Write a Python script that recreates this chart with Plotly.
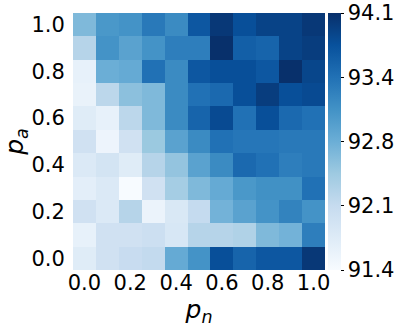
import plotly.graph_objects as go

p_n = [0.0, 0.1, 0.2, 0.3, 0.4, 0.5, 0.6, 0.7, 0.8, 0.9, 1.0]
p_a = [0.0, 0.1, 0.2, 0.3, 0.4, 0.5, 0.6, 0.7, 0.8, 0.9, 1.0]

# rows indexed by p_a (0.0 first), columns by p_n
acc = [
    [91.72, 91.94, 92.05, 92.10, 92.80, 93.07, 93.78, 93.56, 93.70, 93.70, 94.02],  # 0.0
    [91.62, 91.94, 91.94, 91.99, 91.83, 92.21, 92.21, 92.26, 92.62, 92.70, 93.29],  # 0.1
    [91.94, 91.78, 92.21, 91.56, 91.81, 92.08, 92.70, 92.89, 93.07, 93.24, 93.07],  # 0.2
    [91.67, 91.78, 91.40, 91.94, 92.35, 92.62, 92.80, 93.02, 93.10, 93.10, 93.43],  # 0.3
    [91.78, 91.89, 91.72, 92.21, 92.48, 92.89, 93.16, 93.51, 93.43, 93.29, 93.34],  # 0.4
    [91.94, 91.54, 91.94, 92.43, 92.89, 93.16, 93.43, 93.37, 93.37, 93.34, 93.34],  # 0.5
    [91.72, 91.62, 92.16, 92.62, 93.16, 93.56, 93.83, 93.43, 93.78, 93.51, 93.43],  # 0.6
    [91.59, 92.16, 92.53, 92.62, 93.16, 93.43, 93.51, 93.78, 93.97, 93.78, 93.83],  # 0.7
    [91.62, 92.75, 92.80, 93.43, 93.16, 93.70, 93.78, 93.78, 93.70, 94.10, 93.88],  # 0.8
    [92.21, 93.07, 92.89, 93.07, 93.29, 93.29, 94.10, 93.61, 93.56, 93.91, 93.97],  # 0.9
    [92.62, 93.02, 93.07, 93.34, 93.16, 93.70, 94.02, 93.78, 93.91, 93.91, 94.02],  # 1.0
]

zmin, zmax = 91.4, 94.1
cb_vals = [91.4, 92.075, 92.75, 93.425, 94.1]
cb_text = ["91.4", "92.1", "92.8", "93.4", "94.1"]
tick_vals = [0.0, 0.2, 0.4, 0.6, 0.8, 1.0]
tick_text = ["0.0", "0.2", "0.4", "0.6", "0.8", "1.0"]

blues = [
    [0.0, "#f7fbff"], [0.125, "#deebf7"], [0.25, "#c6dbef"], [0.375, "#9ecae1"],
    [0.5, "#6baed6"], [0.625, "#4292c6"], [0.75, "#2171b5"], [0.875, "#08519c"],
    [1.0, "#08306b"],
]

fig = go.Figure(go.Heatmap(
    x=p_n, y=p_a, z=acc, zmin=zmin, zmax=zmax, colorscale=blues,
    colorbar=dict(
        x=1.0116, xanchor="left", xpad=0, y=0.5, yanchor="middle", len=1.0, lenmode="fraction",
        ypad=0, thickness=13, outlinewidth=0, tickvals=cb_vals, ticktext=cb_text,
        ticks="outside", ticklen=3, tickcolor="#000", tickfont=dict(size=21, color="#000"),
    ),
))

fig.update_layout(
    width=407, height=331, margin=dict(l=73, r=76, t=13, b=61),
    paper_bgcolor="white", plot_bgcolor="white",
    font=dict(family="DejaVu Sans", color="#000"),
    xaxis=dict(range=[-0.05, 1.05], tickvals=tick_vals, ticktext=tick_text, automargin=False,
               ticks="outside", ticklen=1, tickcolor="rgba(0,0,0,0)", tickfont=dict(size=21),
               ticklabelstandoff=-7,
               showgrid=False, zeroline=False,
               title=dict(text="<i>p<sub>n</sub></i>", font=dict(size=25), standoff=2)),
    yaxis=dict(range=[-0.05, 1.05], tickvals=tick_vals, ticktext=tick_text, automargin=False,
               ticks="outside", ticklen=3, tickcolor="rgba(0,0,0,0)", tickfont=dict(size=21),
               showgrid=False, zeroline=False,
               title=dict(text="<i>p<sub>a</sub></i>", font=dict(size=25), standoff=4)),
)

fig.write_html("out.html", config={"displayModeBar": False},
               post_script="document.body.style.margin='0';")
